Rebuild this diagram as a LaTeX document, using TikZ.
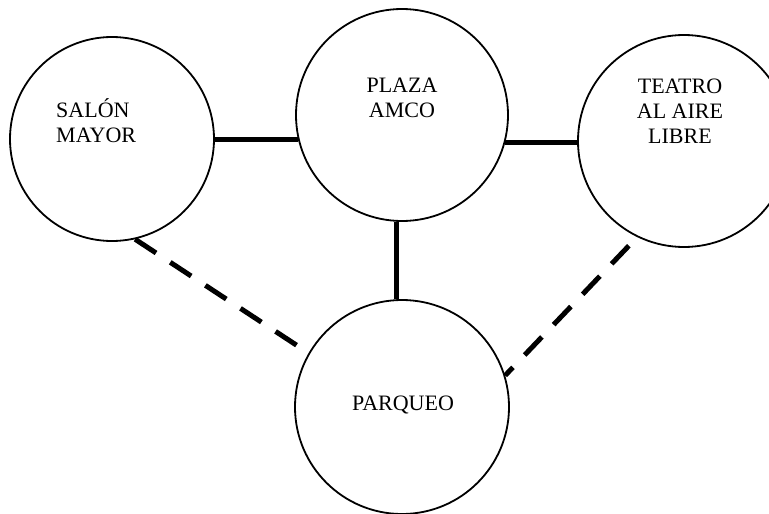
\documentclass[tikz,border=0pt]{standalone}
\usepackage{fontspec}
\setmainfont{Liberation Serif}
\begin{document}
\begin{tikzpicture}[x=1pt, y=-1pt,
    place/.style={draw, circle, line width=1.8pt, inner sep=0pt},
    lbl/.style={inner sep=0pt, font=\fontsize{22}{25}\selectfont},
    link/.style={line width=5pt},
    dlink/.style={line width=5pt, dash pattern=on 25pt off 17pt}]
    \useasboundingbox (0,0) rectangle (769,514);

    % Places
    \node[place, minimum size=204pt] (salon) at (112,139) {};
    \node[place, minimum size=212pt] (plaza) at (402,115) {};
    \node[place, minimum size=212pt] (teatro) at (684,141) {};
    \node[place, minimum size=214pt] (parqueo) at (402,407) {};

    % Labels (base = last line)
    \node[lbl, align=left, anchor=base west] (salonlbl) at (56,142) {SALÓN\\MAYOR};
    \node[lbl, align=center, anchor=base] (plazalbl) at (402,117) {PLAZA\\AMCO};
    \node[lbl, align=center, anchor=base] (teatrolbl) at (680,143) {TEATRO\\AL AIRE\\LIBRE};
    \node[lbl, anchor=base] (parqueolbl) at (403,410) {PARQUEO};

    % Links
    \draw[link] (salon.east) -- (plaza.194 |- salon.east);
    \draw[link] (plaza.345) -- (teatro.west |- plaza.345);
    \draw[link] (plaza.267) -- (plaza.267 |- parqueo.north);
    \draw[dlink] (salon.283) -- (parqueo.150);
    \draw[dlink, dash phase=30pt] (teatro.244) -- (parqueo.17);
\end{tikzpicture}
\end{document}
